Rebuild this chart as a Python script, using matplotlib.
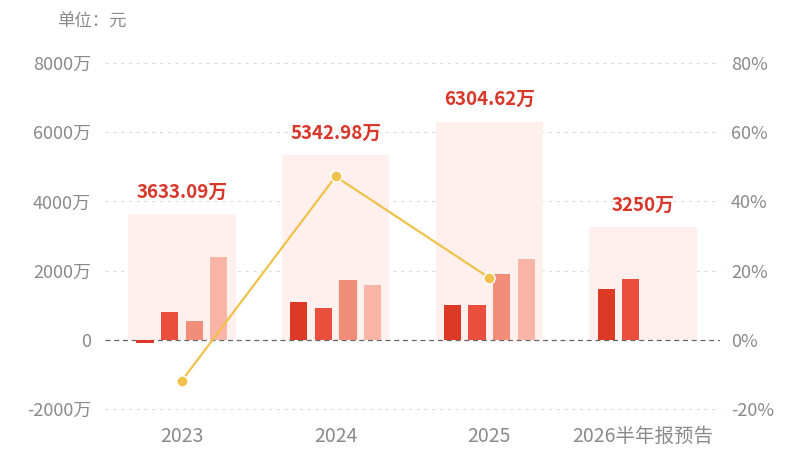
import numpy as np
import matplotlib.pyplot as plt

plt.rcParams['font.family'] = ['Noto Sans CJK SC', 'DejaVu Sans']

years = ["2023", "2024", "2025", "2026半年报预告"]
totals = [3633.09, 5342.98, 6304.62, 3250]
total_labels = ["3633.09万", "5342.98万", "6304.62万", "3250万"]
# quarterly profit (万), None where not reported
q1 = [-95, 1100, 1010, 1480]
q2 = [800, 915, 1010, 1750]
q3 = [550, 1720, 1895, None]
q4 = [2380, 1570, 2340, None]
growth = [-11.8, 47.2, 17.9]
left_ticks = [-2000, 0, 2000, 4000, 6000, 8000]
left_labels = ["-2000万", "0", "2000万", "4000万", "6000万", "8000万"]
right_ticks = [-20, 0, 20, 40, 60, 80]

quarters = [q1, q2, q3, q4]
q_colors = ["#DC3A26", "#EA4E3D", "#F08E79", "#F8B4A5"]
bg_color = "#FFF0EE"
red = "#D9372A"
gray = "#8A8A8A"

fig = plt.figure(figsize=(8, 4.5), dpi=100)
ax = fig.add_axes([105 / 800, 41 / 450, 615 / 800, 346 / 450])
ax2 = ax.twinx()

x = np.arange(len(years))
ax.bar(x, totals, width=0.70, color=bg_color, zorder=1)

for i, vals in enumerate(quarters):
    xs = [x[j] + (i - 1.5) * 0.16 for j in range(len(years)) if vals[j] is not None]
    hs = [v for v in vals if v is not None]
    ax.bar(xs, hs, width=0.112, color=q_colors[i], zorder=3)

for xi, t, lab in zip(x, totals, total_labels):
    ax.annotate(lab, (xi, t), xytext=(0, 9), textcoords="offset points",
                ha="center", va="bottom", color=red, fontsize=13.5, fontweight="bold")

ax.set_xlim(-0.5, 3.5)
ax.set_ylim(-2000, 8000)
ax.set_yticks(left_ticks)
ax.set_yticklabels(left_labels)
ax.set_xticks(x)
ax.set_xticklabels(years, fontsize=14)

for v in left_ticks:
    if v == 0:
        ax.axhline(0, color="#666666", lw=0.9, ls=(0, (4, 3)), zorder=2)
    else:
        ax.axhline(v, color="#DDDDDD", lw=0.8, ls=(0, (3, 4)), zorder=0, clip_on=False)

ax2.plot(x[:3], growth, color="#F0C24B", lw=1.6, marker="o", ms=8,
         mec="white", mew=1, zorder=5)
ax2.set_ylim(-20, 80)
ax2.set_yticks(right_ticks)
ax2.set_yticklabels([f"{v}%" for v in right_ticks])

for a in (ax, ax2):
    for s in a.spines.values():
        s.set_visible(False)
    a.tick_params(length=0, colors=gray, labelsize=13)
ax.tick_params(axis="y", pad=10)
ax.tick_params(axis="x", pad=12, labelsize=14)
ax2.tick_params(axis="y", pad=8)

fig.text(57 / 800, 1 - 22 / 450, "单位：元", color=gray, fontsize=12.5, va="center", ha="left")

fig.savefig("out.png", dpi=100)
